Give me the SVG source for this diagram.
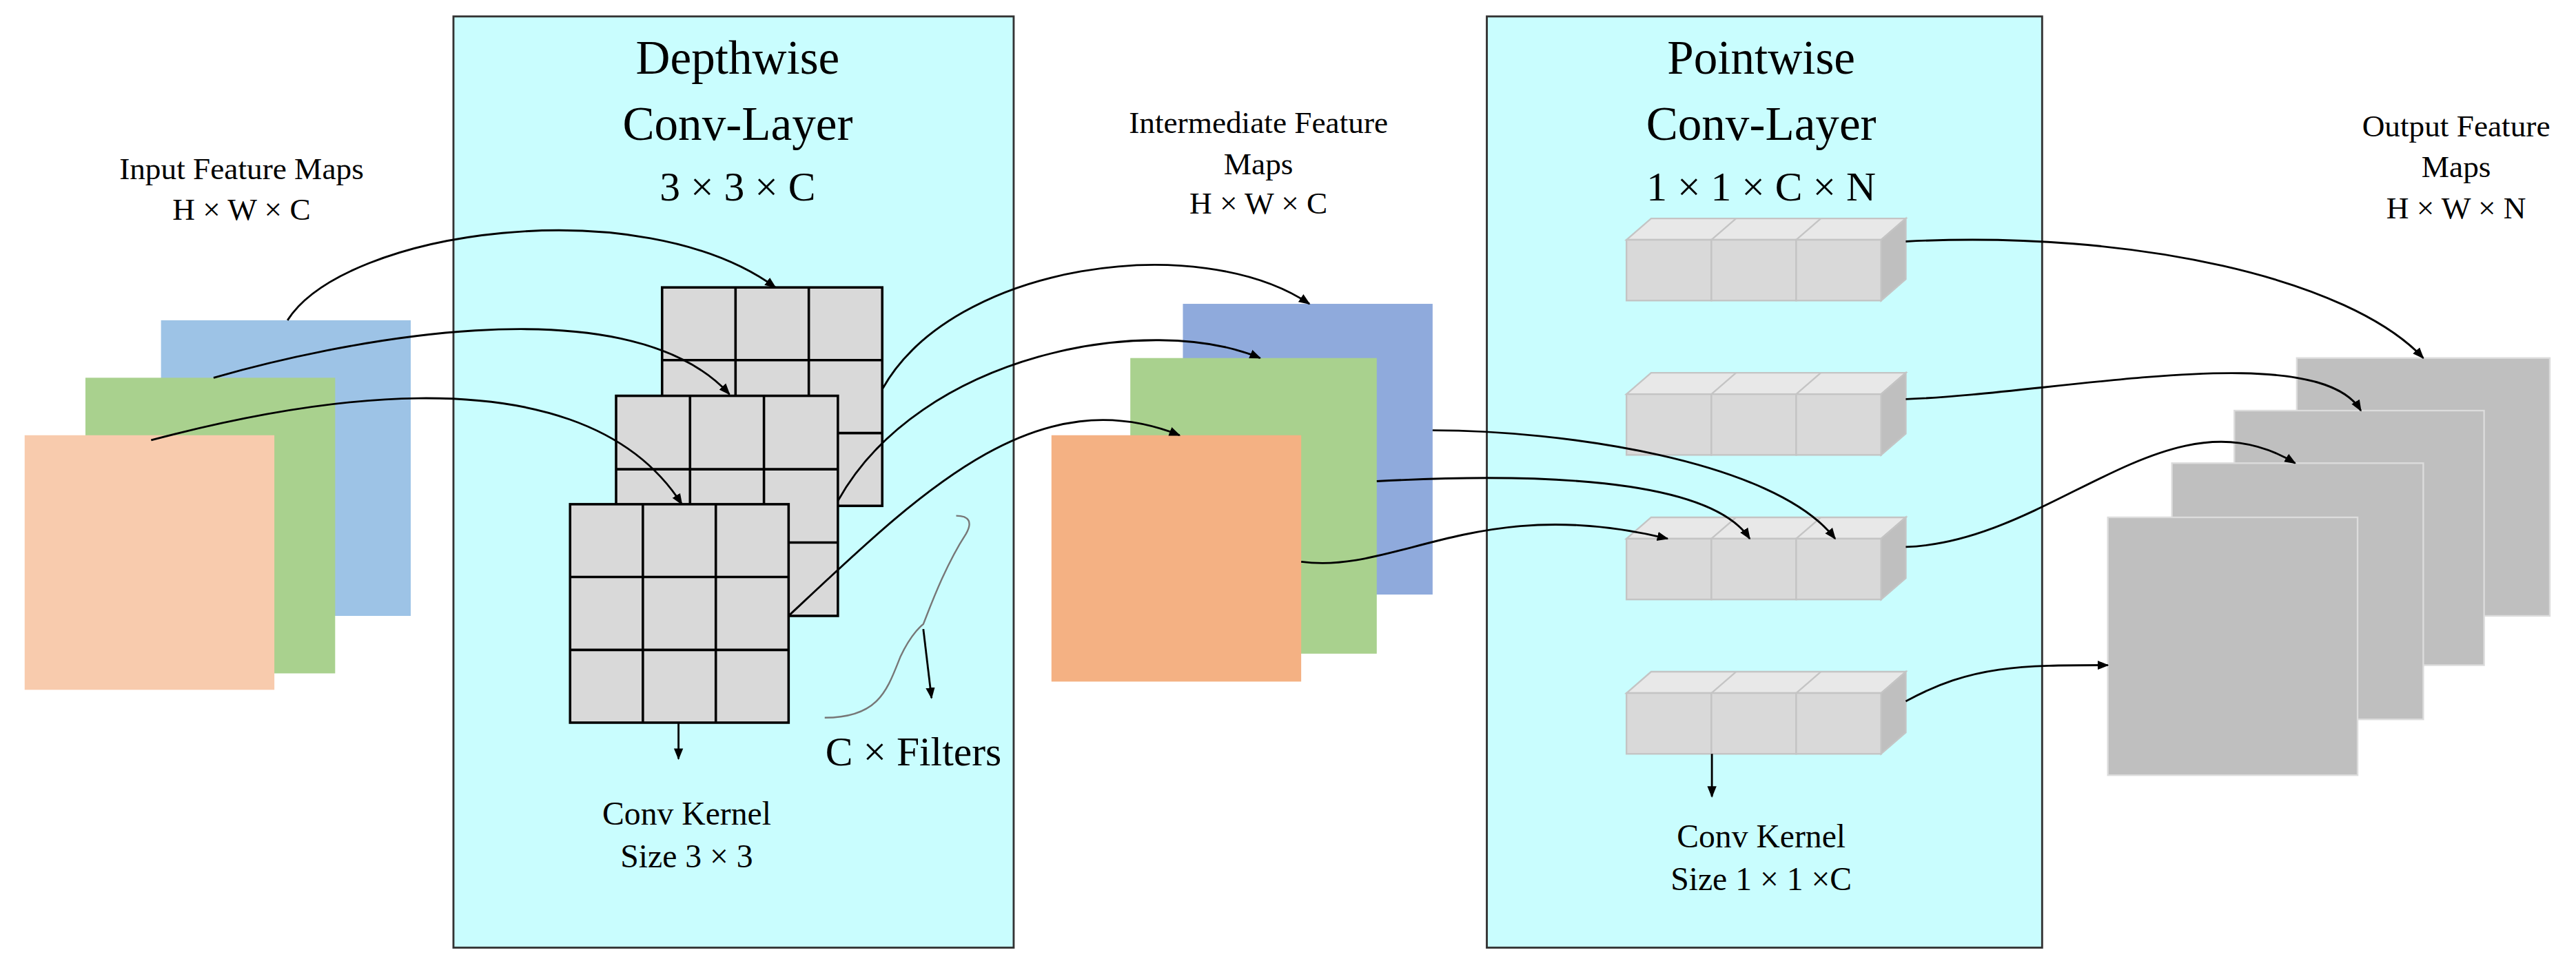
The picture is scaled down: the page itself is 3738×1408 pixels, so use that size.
<svg xmlns="http://www.w3.org/2000/svg" width="3738" height="1408" viewBox="0 0 3738 1408">
<style>
.t{font-family:"Liberation Serif",serif;fill:#000;text-anchor:middle}
.s{font-size:19px}.k{font-size:20px}.m{font-size:25px}.l{font-size:29px}
.c{fill:none;stroke:#000;stroke-width:1.2}
.g{fill:#d9d9d9;stroke:#000;stroke-width:1.5}
.gl{stroke:#000;stroke-width:1.5}
.cf{fill:#d9d9d9;stroke:#c4c4c4;stroke-width:1}
.ct{fill:#e8e8e8;stroke:#c4c4c4;stroke-width:1}
.cs{fill:#bfbfbf;stroke:#c4c4c4;stroke-width:1}
.om{fill:#bfbfbf;stroke:#dcdcdc;stroke-width:1}
</style>
<defs>
<marker id="a" viewBox="0 0 10 10" refX="9" refY="5" markerWidth="7" markerHeight="7" orient="auto" markerUnits="userSpaceOnUse"><path d="M0,1 L10,5 L0,9 z" fill="#000"/></marker>
</defs>
<rect width="3738" height="1408" fill="#fff"/>
<g transform="scale(2.384)">
<g id="depthwise-layer">
<rect x="276" y="10" width="341" height="567" fill="#c9fdfe" stroke="#333" stroke-width="1.2"/>
<text class="t l" x="449" y="45">Depthwise</text>
<text class="t l" x="449" y="85">Conv-Layer</text>
<text class="t m" x="449" y="122">3 × 3 × C</text>
</g>
<g id="pointwise-layer">
<rect x="905" y="10" width="338" height="567" fill="#c9fdfe" stroke="#333" stroke-width="1.2"/>
<text class="t l" x="1072" y="45">Pointwise</text>
<text class="t l" x="1072" y="85">Conv-Layer</text>
<text class="t m" x="1072" y="122">1 × 1 × C × N</text>
</g>
<g id="input-maps">
<rect x="98" y="195" width="152" height="180" fill="#9dc3e6"/>
<rect x="52" y="230" width="152" height="180" fill="#a9d18e"/>
<rect x="15" y="265" width="152" height="155" fill="#f8cbad"/>
<text class="t s" x="147" y="109">Input Feature Maps</text>
<text class="t s" x="147" y="134">H × W × C</text>
</g>
<g id="kernels">
<rect class="g" x="403" y="175" width="134" height="133"/>
<path class="gl" d="M447.7,175V308M492.3,175V308M403,219.3H537M403,263.7H537"/>
<rect class="g" x="375" y="241" width="135" height="134"/>
<path class="gl" d="M420,241V375M465,241V375M375,285.7H510M375,330.3H510"/>
<rect class="g" x="347" y="307" width="133" height="133"/>
<path class="gl" d="M391.3,307V440M435.7,307V440M347,351.3H480M347,395.7H480"/>
<path class="c" d="M413,440V462" marker-end="url(#a)"/>
<text class="t k" x="418" y="502">Conv Kernel</text>
<text class="t k" x="418" y="528">Size 3 × 3</text>
</g>
<g id="filters-brace">
<path d="M502,437 C535,437 540,420 548,400 C555,385 562,380 562,380 C566,370 575,345 588,325 C592,318 590,314 582,314" fill="none" stroke="#777" stroke-width="1"/>
<path class="c" d="M562,383L567,425" marker-end="url(#a)"/>
<text class="t m" x="556" y="466">C ×  Filters</text>
</g>
<g id="intermediate-maps">
<rect x="720" y="185" width="152" height="177" fill="#8faadc"/>
<rect x="688" y="218" width="150" height="180" fill="#a9d18e"/>
<rect x="640" y="265" width="152" height="150" fill="#f4b183"/>
<text class="t s" x="766" y="81">Intermediate Feature</text>
<text class="t s" x="766" y="106">Maps</text>
<text class="t s" x="766" y="130">H × W × C</text>
</g>
<g id="pointwise-kernels">
<g id="cube1" transform="translate(0,0)">
<path class="ct" d="M990,146L1005,133H1160L1145,146Z"/><path class="cs" d="M1145,146L1160,133V170L1145,183Z"/>
<rect class="cf" x="990" y="146" width="51.7" height="37"/><rect class="cf" x="1041.7" y="146" width="51.7" height="37"/><rect class="cf" x="1093.3" y="146" width="51.7" height="37"/>
<path d="M1041.7,146L1056.7,133M1093.3,146L1108.3,133" stroke="#c4c4c4"/>
</g>
<g id="cube2" transform="translate(0,94)">
<path class="ct" d="M990,146L1005,133H1160L1145,146Z"/><path class="cs" d="M1145,146L1160,133V170L1145,183Z"/>
<rect class="cf" x="990" y="146" width="51.7" height="37"/><rect class="cf" x="1041.7" y="146" width="51.7" height="37"/><rect class="cf" x="1093.3" y="146" width="51.7" height="37"/>
<path d="M1041.7,146L1056.7,133M1093.3,146L1108.3,133" stroke="#c4c4c4"/>
</g>
<g id="cube3" transform="translate(0,182)">
<path class="ct" d="M990,146L1005,133H1160L1145,146Z"/><path class="cs" d="M1145,146L1160,133V170L1145,183Z"/>
<rect class="cf" x="990" y="146" width="51.7" height="37"/><rect class="cf" x="1041.7" y="146" width="51.7" height="37"/><rect class="cf" x="1093.3" y="146" width="51.7" height="37"/>
<path d="M1041.7,146L1056.7,133M1093.3,146L1108.3,133" stroke="#c4c4c4"/>
</g>
<g id="cube4" transform="translate(0,276)">
<path class="ct" d="M990,146L1005,133H1160L1145,146Z"/><path class="cs" d="M1145,146L1160,133V170L1145,183Z"/>
<rect class="cf" x="990" y="146" width="51.7" height="37"/><rect class="cf" x="1041.7" y="146" width="51.7" height="37"/><rect class="cf" x="1093.3" y="146" width="51.7" height="37"/>
<path d="M1041.7,146L1056.7,133M1093.3,146L1108.3,133" stroke="#c4c4c4"/>
</g>
<path class="c" d="M1042,459V485" marker-end="url(#a)"/>
<text class="t k" x="1072" y="516">Conv Kernel</text>
<text class="t k" x="1072" y="542">Size 1 × 1 ×C</text>
</g>
<g id="output-maps">
<rect class="om" x="1398" y="218" width="154" height="157"/>
<rect class="om" x="1360" y="250" width="152" height="155"/>
<rect class="om" x="1322" y="282" width="153" height="156"/>
<rect class="om" x="1283" y="315" width="152" height="157"/>
<text class="t s" x="1495" y="83">Output Feature</text>
<text class="t s" x="1495" y="108">Maps</text>
<text class="t s" x="1495" y="133">H × W × N</text>
</g>
<g id="connectors">
<path class="c" marker-end="url(#a)" d="M175,195 C210,140 390,115 472,175"/>
<path class="c" marker-end="url(#a)" d="M130,230 C200,210 380,170 444,240"/>
<path class="c" marker-end="url(#a)" d="M92,268 C160,250 350,205 415,307"/>
<path class="c" marker-end="url(#a)" d="M537,237 C580,160 730,140 797,185"/>
<path class="c" marker-end="url(#a)" d="M510,305 C560,215 700,190 767,218"/>
<path class="c" marker-end="url(#a)" d="M480,375 C560,300 630,230 718,265"/>
<path class="c" marker-end="url(#a)" d="M872,262 C950,262 1080,280 1117,328"/>
<path class="c" marker-end="url(#a)" d="M838,293 C930,288 1040,290 1065,328"/>
<path class="c" marker-end="url(#a)" d="M792,342 C850,350 900,300 1015,328"/>
<path class="c" marker-end="url(#a)" d="M1160,147 C1300,140 1430,170 1475,218"/>
<path class="c" marker-end="url(#a)" d="M1160,243 C1250,240 1410,205 1437,250"/>
<path class="c" marker-end="url(#a)" d="M1160,333 C1250,330 1320,235 1397,282"/>
<path class="c" marker-end="url(#a)" d="M1160,427 C1200,405 1230,405 1283,405"/>
</g>
</g>
</svg>
